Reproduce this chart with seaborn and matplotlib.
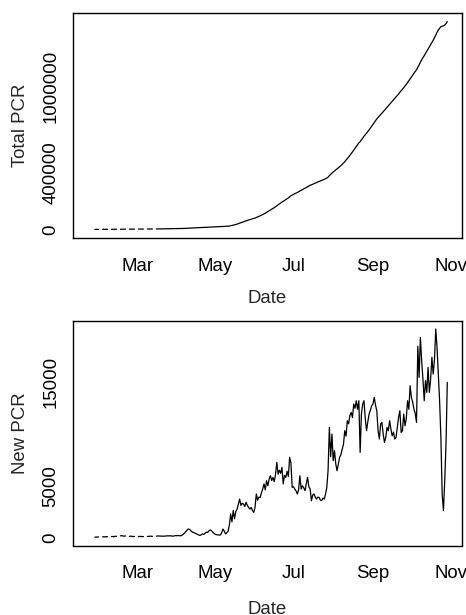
import numpy as np
import pandas as pd
import matplotlib
matplotlib.use("Agg")
import matplotlib.pyplot as plt
import matplotlib.dates as mdates
import seaborn as sns

nan = np.nan

# Daily new PCR tests, 22 Jan - 29 Oct 2020 (nan = no report that day)
new_jan = [nan, nan, nan, nan, nan, nan, 20, 35, 30, 45]
new_feb = [nan, nan, 50, 60, 45, 70, 55, nan, nan, 80, 90, 70, 110, 95, nan,
           nan, 150, 170, 130, 120, 140, nan, nan, 90, 120, 100, 80, 95, nan]
new_mar = [nan, 60, 110, 70, 90, 80, nan, nan, 100, 90, 120, 110, 100, nan,
           nan, 120, 130, 140, 120, 130, 110, 120, 140, 130, 150, 140, 160,
           130, 120, 150, 170]
new_apr = [160, 180, 170, 150, 200, 300, 420, 560, 700, 820, 760, 640, 520,
           480, 420, 350, 300, 240, 180, 260, 330, 280, 400, 500, 480, 620,
           720, 650, 520, 380]
new_may = [300, 260, 240, 220, 230, 450, 810, 600, 330, 450, 600, 1200, 2260,
           1500, 2600, 1800, 2500, 2740, 3200, 3700, 3100, 3300, 3230, 3000,
           3400, 3100, 2900, 2740, 2900, 2600, 2420]
new_jun = [2900, 4200, 3600, 3900, 3870, 4300, 4680, 5170, 4600, 5490, 5000,
           5650, 5970, 5500, 5800, 5400, 6100, 7260, 6130, 6500, 6200, 6780,
           5170, 6000, 5810, 6400, 5900, 7750, 7200, 4840]
new_jul = [4900, 4680, 4500, 4200, 4600, 5970, 4680, 5000, 4800, 4520, 5200,
           5810, 4900, 4680, 3550, 4100, 4200, 3900, 3710, 3900, 3870, 3600,
           3550, 3800, 3700, 4200, 4840, 6500, 10650, 7800, 10000]
new_aug = [7420, 8390, 7100, 6450, 7100, 7750, 8000, 8550, 9000, 10330, 9800,
           11290, 11000, 11800, 12100, 11600, 12910, 12500, 13230, 12400,
           13230, 8230, 11940, 12900, 13230, 11500, 10330, 11200, 11940,
           12300, 12750]
new_sep = [12910, 13550, 12800, 12260, 10320, 9520, 10970, 11130, 10000, 9190,
           9700, 10650, 10320, 11290, 10490, 9840, 10200, 9520, 9680, 10650,
           11610, 12260, 10160, 10320, 11940, 10800, 11500, 13230, 12400,
           14680]
new_oct = [13550, 13070, 12400, 12000, 11130, 18500, 15490, 19360, 17100,
           15330, 13230, 15170, 14040, 16460, 14040, 15300, 17430, 15810,
           17200, 20170, 18390, 15810, 13230, 9680, 4200, 2580, 5490, 9040,
           15000]

month_ticks = ["2020-03-01", "2020-05-01", "2020-07-01", "2020-09-01", "2020-11-01"]
month_labels = ["Mar", "May", "Jul", "Sep", "Nov"]

total_ticks = [0, 200000, 400000, 600000, 800000, 1000000, 1200000, 1400000]
total_labeled = [0, 400000, 1000000]
new_ticks = [0, 5000, 10000, 15000, 20000]
new_labeled = [0, 5000, 15000]

new_pcr = (new_jan + new_feb + new_mar + new_apr + new_may + new_jun +
           new_jul + new_aug + new_sep + new_oct)
dates = pd.date_range("2020-01-22", periods=len(new_pcr), freq="D")

df = pd.DataFrame({"Date": dates, "new": new_pcr})
# running total of tests; days without a report stay missing
df["total"] = df["new"].cumsum()
# contiguous runs of reported days, so the lines break where data is missing
df["run"] = df["new"].isna().cumsum()

sns.set_style("white")
plt.rcParams["font.family"] = ["Liberation Sans", "DejaVu Sans"]
plt.rcParams["axes.edgecolor"] = "black"
plt.rcParams["text.color"] = "black"
plt.rcParams["xtick.color"] = "black"
plt.rcParams["ytick.color"] = "black"

W, H = 466, 615
fig = plt.figure(figsize=(W / 100, H / 100), dpi=100)
ax1 = fig.add_axes([72.7 / W, 1 - 237.7 / H, 389 / W, 224.4 / H])
ax2 = fig.add_axes([72.7 / W, 1 - 545.5 / H, 389 / W, 224.8 / H])

FS = 13.4


def r_range(lo, hi):
    pad = 0.04 * (hi - lo)
    return lo - pad, hi + pad


def style_panel(ax, col, ticks, labeled, ylabel, xlab_y):
    d = df.dropna(subset=[col])
    sns.lineplot(data=d, x="Date", y=col, units="run", estimator=None,
                 color="black", linewidth=0.9, ax=ax, legend=False)
    x0, x1 = r_range(mdates.date2num(df["Date"].min()),
                     mdates.date2num(df["Date"].max()))
    ax.set_xlim(x0, x1)
    ax.set_ylim(*r_range(d[col].min(), d[col].max()))
    ax.set_xticks([mdates.date2num(pd.Timestamp(t)) for t in month_ticks])
    ax.set_xticklabels(month_labels)
    ax.set_yticks(ticks)
    ax.set_yticklabels([str(t) if t in labeled else "" for t in ticks])
    ax.tick_params(axis="both", direction="out", length=6.7, width=0.8,
                   labelsize=FS, color="black")
    ax.tick_params(axis="x", pad=7.6)
    ax.tick_params(axis="y", pad=3.0, labelrotation=90)
    for lab in ax.get_yticklabels():
        lab.set_va("center")
    for s in ax.spines.values():
        s.set_visible(True)
        s.set_color("black")
        s.set_linewidth(1.0)
    ax.set_xlabel("Date", fontsize=FS, va="baseline")
    ax.xaxis.set_label_coords(0.5, xlab_y)
    ax.set_ylabel(ylabel, fontsize=FS, va="center")
    ax.yaxis.set_label_coords(-0.1347, 0.5)
    ax.grid(False)


style_panel(ax1, "total", total_ticks, total_labeled, "Total PCR",
            -(302.7 - 237.7) / 224.4)
style_panel(ax2, "new", new_ticks, new_labeled, "New PCR",
            -(614.0 - 545.5) / 224.8)

fig.savefig("out.png", dpi=100, facecolor="white")
